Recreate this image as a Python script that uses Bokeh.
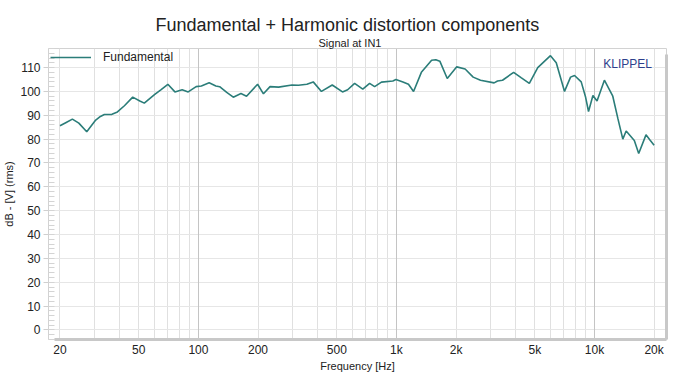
from bokeh.plotting import figure
from bokeh.models import (FixedTicker, Grid, Legend, LegendItem, Label, Title,
                          LinearAxis, Range1d, ColumnDataSource)
from bokeh.embed import file_html
from bokeh.resources import INLINE

# ---- data ----
freq_hz = [20, 21.5, 23.1, 24.9, 27.3, 28.6, 30.3, 32, 33.5, 36.6,
           39, 42.3, 46.6, 50.6, 53.3, 60, 64.6, 70.1, 76.1, 82.8,
           88.8, 97.4, 103.5, 113.3, 122.5, 128, 139, 150, 164, 175,
           199, 213, 230, 254, 297, 320, 353, 380, 418, 474,
           534, 567, 615, 676, 732, 776, 840, 959, 994, 1078,
           1150, 1220, 1336, 1505, 1580, 1656, 1805, 2016, 2222, 2440,
           2657, 3113, 3240, 3432, 3906, 4258, 4688, 5170, 5994, 6411,
           7058, 7570, 7930, 8570, 9006, 9330, 9820, 10300, 11220, 12370,
           13120, 13900, 14450, 15890, 16720, 18200, 19100, 20000]
fund_db = [85.6, 87.0, 88.4, 86.7, 83.1, 85.3, 88.0, 89.5, 90.3, 90.4,
           91.4, 94.0, 97.6, 96.0, 95.1, 98.7, 100.7, 103.0, 99.8, 100.7,
           99.8, 102.0, 102.3, 103.6, 102.3, 102.0, 99.6, 97.6, 99.1, 98.0,
           103.0, 99.0, 102.0, 101.8, 102.7, 102.6, 103.0, 104.0, 100.0, 102.7,
           99.8, 100.7, 103.4, 101.0, 103.4, 102.0, 103.9, 104.4, 105.0, 104.0,
           103.0, 100.0, 108.0, 113.1, 113.3, 112.7, 105.4, 110.3, 109.4, 106.0,
           104.7, 103.6, 104.4, 104.7, 108.0, 105.8, 103.4, 110.0, 115.0, 112.0,
           100.0, 106.0, 106.7, 104.0, 97.8, 91.6, 98.3, 96.0, 104.7, 98.0,
           88.7, 80.0, 83.4, 79.4, 74.0, 81.8, 79.5, 77.4]

x_tick_values = [20, 50, 100, 200, 500, 1000, 2000, 5000, 10000, 20000]
x_tick_labels = ["20", "50", "100", "200", "500", "1k", "2k", "5k", "10k", "20k"]
x_grid_values = [20, 30, 40, 50, 60, 70, 80, 90,
                 100, 200, 300, 400, 500, 600, 700, 800, 900,
                 1000, 2000, 3000, 4000, 5000, 6000, 7000, 8000, 9000,
                 10000, 20000]
x_decades = [100, 1000, 10000]
y_tick_values = [0, 10, 20, 30, 40, 50, 60, 70, 80, 90, 100, 110]
y_minor_values = list(range(-4, 119, 2))

series_name = "Fundamental"
title_text = "Fundamental + Harmonic distortion components"
subtitle_text = "Signal at IN1"
brand_text = "KLIPPEL"

FONT = "Liberation Sans"
LINE_COLOR = "#2b7d79"
SHADOW = "#c8c8c8"

p = figure(width=679, height=374, x_axis_type="log",
           x_range=Range1d(17.5, 23100), y_range=Range1d(-4, 118),
           output_backend="svg", toolbar_location=None,
           min_border_left=42, min_border_right=13,
           min_border_top=48, min_border_bottom=26)
p.background_fill_color = "white"
p.border_fill_color = "white"
p.outline_line_color = "#d2d2d2"
p.outline_line_width = 1

# keep references to the figure's own axes before adding any more
xa = p.below[0]
ya = p.left[0]

# main title (outermost)
p.title.text = title_text
p.title.text_font = FONT
p.title.text_font_size = "18px"
p.title.text_font_style = "normal"
p.title.text_color = "#222222"
p.title.align = "left"
p.title.offset = 107
p.title.standoff = 0

# empty spacer band between the subtitle and the frame (unlabeled axis, no line)
spacer_axis = LinearAxis(ticker=FixedTicker(ticks=[1000]),
                         major_label_overrides={1000: ""},
                         major_label_text_font_size="1px",
                         major_label_standoff=14,
                         axis_line_color=None,
                         major_tick_out=0, major_tick_in=0,
                         minor_tick_out=0, minor_tick_in=0)
p.add_layout(spacer_axis, "above")

# subtitle, between title and spacer
subtitle = Title(text=subtitle_text, text_font=FONT, text_font_size="11px",
                 text_font_style="normal", text_color="#222222",
                 align="left", offset=270, standoff=0)
p.add_layout(subtitle, "above")

# grids
p.xgrid.ticker = FixedTicker(ticks=x_tick_values, minor_ticks=x_grid_values)
p.xgrid.grid_line_color = "#e0e0e0"
p.xgrid.minor_grid_line_color = "#e0e0e0"
p.ygrid.grid_line_color = "#e6e6e6"
decade_grid = Grid(dimension=0, ticker=FixedTicker(ticks=x_decades),
                   grid_line_color="#c4c4c4")
p.add_layout(decade_grid)

# bottom axis
xa.ticker = FixedTicker(ticks=x_tick_values, minor_ticks=x_grid_values)
xa.major_label_overrides = {v: l for v, l in zip(x_tick_values, x_tick_labels)}
xa.bounds = (18.8, 23100)
xa.major_tick_out = 0
xa.major_tick_in = 0
xa.minor_tick_out = 0
xa.minor_tick_in = 0
xa.axis_line_color = SHADOW
xa.axis_line_width = 3
xa.major_label_standoff = 3
xa.major_label_text_font = FONT
xa.major_label_text_font_size = "12px"
xa.major_label_text_color = "#222222"
xa.axis_label = "Frequency [Hz]"
xa.axis_label_text_font = FONT
xa.axis_label_text_font_size = "11px"
xa.axis_label_text_font_style = "normal"
xa.axis_label_text_color = "#222222"
xa.axis_label_standoff = 0

# left axis
ya.ticker = FixedTicker(ticks=y_tick_values, minor_ticks=y_minor_values)
ya.major_tick_out = 5
ya.major_tick_in = 0
ya.major_tick_line_color = "#cfcfcf"
ya.minor_tick_out = 0
ya.minor_tick_in = 6
ya.minor_tick_line_color = "#d4d4d4"
ya.axis_line_color = None
ya.major_label_standoff = 3
ya.major_label_text_font = FONT
ya.major_label_text_font_size = "12px"
ya.major_label_text_color = "#222222"
ya.axis_label = "dB - [V] (rms)"
ya.axis_label_text_font = FONT
ya.axis_label_text_font_size = "11px"
ya.axis_label_text_font_style = "normal"
ya.axis_label_text_color = "#222222"
ya.axis_label_standoff = 2

# right-hand shadow of the plot box (an unlabeled axis line)
shadow_axis = LinearAxis(ticker=FixedTicker(ticks=[50]), bounds=(-4, 115.6),
                         major_label_overrides={50: ""},
                         major_label_text_font_size="1px",
                         major_label_standoff=0,
                         axis_line_color=SHADOW, axis_line_width=3,
                         major_tick_out=0, major_tick_in=0,
                         minor_tick_out=0, minor_tick_in=0)
p.add_layout(shadow_axis, "right")

# data line
src = ColumnDataSource(dict(freq=freq_hz, db=fund_db))
r = p.line("freq", "db", source=src, line_color=LINE_COLOR, line_width=1.6)

legend = Legend(items=[LegendItem(label=series_name, renderers=[r])],
                location="top_left", orientation="horizontal",
                padding=0, margin=2, spacing=0, label_standoff=12,
                glyph_width=41, glyph_height=12, label_height=12,
                border_line_color=None, background_fill_alpha=0.0,
                label_text_font=FONT, label_text_font_size="12px",
                label_text_color="#222222")
p.add_layout(legend, "center")

p.add_layout(Label(x=19500, y=111.6, text=brand_text, text_align="right",
                   text_baseline="middle", text_font=FONT, text_font_size="12px",
                   text_color="#2d3f8c"))

open("out.html", "w").write(file_html(p, INLINE))
